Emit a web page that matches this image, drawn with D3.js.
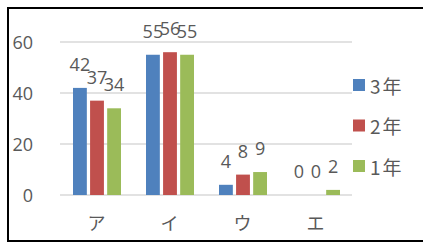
<!DOCTYPE html>
<html lang="ja">
<head>
    <meta charset="utf-8">
    <title>学年別回答数</title>
    <script type="text/javascript" src="https://d3js.org/d3.v7.min.js"></script>
    <style type="text/css">
        body { margin: 0; background: #fff; }
        text { font-family: "Noto Sans CJK JP", "Noto Sans", sans-serif; fill: #595959; }
        .tick-label, .data-label { font-family: "Open Sans", "Noto Sans", sans-serif; font-size: 18px; }
        .cat-label { font-size: 18px; }
        .legend-label { font-size: 19px; letter-spacing: 2px; }
    </style>
</head>
<body>
    <div id="chart"></div>
    <script type="text/javascript">

        //Width and height
        var w = 423;
        var h = 247;

        //Categories and series
        var categories = ["ア", "イ", "ウ", "エ"];
        var seriesNames = ["3年", "2年", "1年"];
        var seriesColors = ["#4f81bd", "#c0504d", "#9bbb59"];
        var values3 = [42, 55, 4, 0];
        var values2 = [37, 56, 8, 0];
        var values1 = [34, 55, 9, 2];
        var yTicks = [0, 20, 40, 60];

        var seriesValues = [values3, values2, values1];

        //Flat table of bars built from the arrays above
        var bars = [];
        categories.forEach(function (c, ci) {
            seriesNames.forEach(function (s, si) {
                bars.push({ cat: c, series: s, value: seriesValues[si][ci], color: seriesColors[si] });
            });
        });

        var svg = d3.select("#chart")
            .append("svg")
            .attr("width", w)
            .attr("height", h);

        //Outer frame
        svg.append("rect")
            .attr("x", 8)
            .attr("y", 8)
            .attr("width", 440)
            .attr("height", 233)
            .attr("fill", "none")
            .attr("stroke", "#000")
            .attr("stroke-width", 2);

        //Scales
        var x = d3.scaleBand()
            .domain(categories)
            .range([60, 352]);

        var xInner = d3.scaleBand()
            .domain(seriesNames)
            .range([13, 61])
            .paddingInner(0.19);

        var y = d3.scaleLinear()
            .domain([0, 60])
            .range([195, 42]);

        //Gridlines
        svg.selectAll("line.grid")
            .data(yTicks)
            .enter()
            .append("line")
            .attr("class", "grid")
            .attr("x1", 60)
            .attr("x2", 352)
            .attr("y1", function (d) { return y(d); })
            .attr("y2", function (d) { return y(d); })
            .attr("stroke", "#d9d9d9")
            .attr("stroke-width", 1.5);

        //Y tick labels
        svg.selectAll("text.tick-label")
            .data(yTicks)
            .enter()
            .append("text")
            .attr("class", "tick-label")
            .attr("x", 33)
            .attr("y", function (d) { return y(d); })
            .attr("text-anchor", "end")
            .attr("dominant-baseline", "central")
            .text(function (d) { return d; });

        //Bars
        svg.selectAll("rect.bar")
            .data(bars)
            .enter()
            .append("rect")
            .attr("class", "bar")
            .attr("x", function (d) { return x(d.cat) + xInner(d.series); })
            .attr("y", function (d) { return y(d.value); })
            .attr("width", xInner.bandwidth())
            .attr("height", function (d) { return y(0) - y(d.value); })
            .attr("fill", function (d) { return d.color; });

        //Data labels
        svg.selectAll("text.data-label")
            .data(bars)
            .enter()
            .append("text")
            .attr("class", "data-label")
            .attr("x", function (d) { return x(d.cat) + xInner(d.series) + xInner.bandwidth() / 2; })
            .attr("y", function (d) { return y(d.value) - 17; })
            .attr("text-anchor", "middle")
            .text(function (d) { return d.value; });

        //Category labels
        svg.selectAll("text.cat-label")
            .data(categories)
            .enter()
            .append("text")
            .attr("class", "cat-label")
            .attr("x", function (d) { return x(d) + x.bandwidth() / 2; })
            .attr("y", 222)
            .attr("text-anchor", "middle")
            .attr("dominant-baseline", "central")
            .text(function (d) { return d; });

        //Legend
        var legend = svg.selectAll("g.legend")
            .data(seriesNames)
            .enter()
            .append("g")
            .attr("class", "legend")
            .attr("transform", function (d, i) { return "translate(353," + (85 + i * 40.5) + ")"; });

        legend.append("rect")
            .attr("x", 0)
            .attr("y", -6)
            .attr("width", 12)
            .attr("height", 12)
            .attr("fill", function (d, i) { return seriesColors[i]; });

        legend.append("text")
            .attr("class", "legend-label")
            .attr("x", 17)
            .attr("y", 0)
            .attr("dominant-baseline", "central")
            .text(function (d) { return d; });

    </script>
</body>
</html>
